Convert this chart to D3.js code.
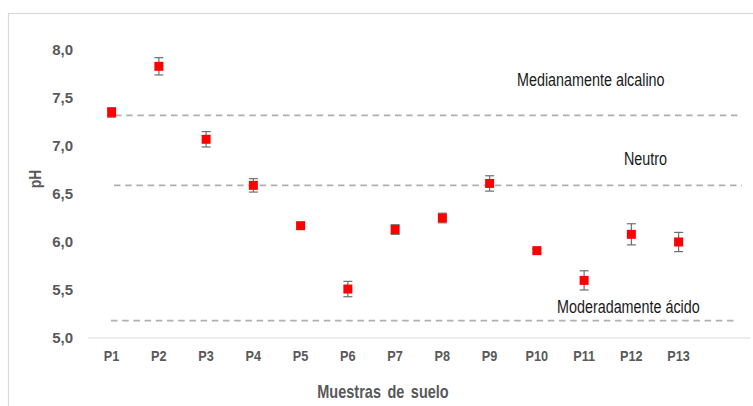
<!DOCTYPE html>
<html>
<head>
<meta charset="utf-8">
<script src="https://cdn.jsdelivr.net/npm/d3@7"></script>
<style>
  html, body { margin: 0; padding: 0; background: #ffffff; }
  svg { display: block; }
  text { font-family: "Liberation Sans", Arial, sans-serif; }
</style>
</head>
<body>
<svg id="chart" width="753" height="406"></svg>
<script>
// Soil samples and their mean pH with error (±)
const samples = ["P1","P2","P3","P4","P5","P6","P7","P8","P9","P10","P11","P12","P13"];
const phMean  = [7.35, 7.83, 7.07, 6.59, 6.17, 5.51, 6.13, 6.25, 6.61, 5.91, 5.60, 6.08, 6.00];
const phError = [0.05, 0.09, 0.08, 0.07, 0.02, 0.08, 0.05, 0.05, 0.08, 0.02, 0.10, 0.11, 0.10];

// Reference pH classes
const classLevels = [7.32, 6.59, 5.18];
const classNames  = ["Medianamente alcalino", "Neutro", "Moderadamente ácido"];

// Axis ticks
const yTicks = [5.0, 5.5, 6.0, 6.5, 7.0, 7.5, 8.0];

// horizontal squeeze that gives an "Arial Narrow" look
const NARROW = 0.82;

const svg = d3.select("#chart");

// outer chart frame
svg.append("rect")
  .attr("x", 8.5).attr("y", 13.5)
  .attr("width", 760).attr("height", 420)
  .attr("fill", "#ffffff")
  .attr("stroke", "#d9d9d9").attr("stroke-width", 1.2);

const x = d3.scaleBand().domain(samples).range([88, 88 + 13 * 47.25]).padding(0);
const y = d3.scaleLinear().domain([5, 8]).range([338, 50]);

const fmt = d => d3.format(".1f")(d).replace(".", ",");

// y axis (labels only)
const yAxis = svg.append("g")
  .attr("transform", "translate(78,0)")
  .call(d3.axisLeft(y).tickValues(yTicks).tickFormat(fmt).tickSize(0).tickPadding(5));
yAxis.select(".domain").remove();
yAxis.selectAll("text")
  .attr("fill", "#595959")
  .style("font-size", "15px")
  .style("font-weight", "bold");

// x axis baseline + category labels
svg.append("line")
  .attr("x1", 88).attr("x2", 750)
  .attr("y1", y(5)).attr("y2", y(5))
  .attr("stroke", "#d9d9d9").attr("stroke-width", 1.2);

const xAxis = svg.append("g")
  .attr("transform", `translate(0,${y(5)})`)
  .call(d3.axisBottom(x).tickSize(0).tickPadding(11.5));
xAxis.select(".domain").remove();
xAxis.selectAll("text")
  .attr("fill", "#595959")
  .attr("transform", `scale(${NARROW},1)`)
  .style("font-size", "15.5px")
  .style("font-weight", "bold");

// dashed class boundaries
const lineSpans = [[115, 742], [114, 742], [111, 735]];
svg.append("g").selectAll("line")
  .data(classLevels)
  .join("line")
  .attr("x1", (d, i) => lineSpans[i][0])
  .attr("x2", (d, i) => lineSpans[i][1])
  .attr("y1", d => y(d)).attr("y2", d => y(d))
  .attr("stroke", "#b0b0b0")
  .attr("stroke-width", 1.8)
  .attr("stroke-dasharray", "6.5,4.7");

// class names
const labelPos = [[517, 86], [624, 165], [557, 313]];
svg.append("g").selectAll("text")
  .data(classNames)
  .join("text")
  .attr("transform", (d, i) => `translate(${labelPos[i][0]},${labelPos[i][1]}) scale(${NARROW},1)`)
  .attr("fill", "#1a1a1a")
  .style("font-size", "17.5px")
  .text(d => d);

// error bars
const pts = samples.map((s, i) => ({ s, m: phMean[i], e: phError[i] }));
const cx = d => x(d.s) + x.bandwidth() / 2;
const eb = svg.append("g").attr("stroke", "#6f6f6f").attr("stroke-width", 1.2);
eb.selectAll(".stem").data(pts).join("line")
  .attr("x1", cx).attr("x2", cx)
  .attr("y1", d => y(d.m + d.e)).attr("y2", d => y(d.m - d.e));
eb.selectAll(".capT").data(pts).join("line")
  .attr("x1", d => cx(d) - 4.5).attr("x2", d => cx(d) + 4.5)
  .attr("y1", d => y(d.m + d.e)).attr("y2", d => y(d.m + d.e));
eb.selectAll(".capB").data(pts).join("line")
  .attr("x1", d => cx(d) - 4.5).attr("x2", d => cx(d) + 4.5)
  .attr("y1", d => y(d.m - d.e)).attr("y2", d => y(d.m - d.e));

// square markers
svg.append("g").selectAll("rect")
  .data(pts)
  .join("rect")
  .attr("x", d => cx(d) - 4.5)
  .attr("y", d => y(d.m) - 4.5)
  .attr("width", 9).attr("height", 9)
  .attr("fill", "#ff0000");

// axis titles
svg.append("text")
  .attr("transform", `translate(41,179) rotate(-90) scale(${NARROW},1)`)
  .attr("text-anchor", "middle")
  .attr("fill", "#595959")
  .style("font-size", "17px")
  .style("font-weight", "bold")
  .text("pH");

svg.append("text")
  .attr("transform", `translate(383,398) scale(${NARROW},1)`)
  .attr("text-anchor", "middle")
  .attr("fill", "#595959")
  .style("font-size", "17.7px")
  .style("font-weight", "bold")
  .style("word-spacing", "3px")
  .text("Muestras de suelo");
</script>
</body>
</html>
